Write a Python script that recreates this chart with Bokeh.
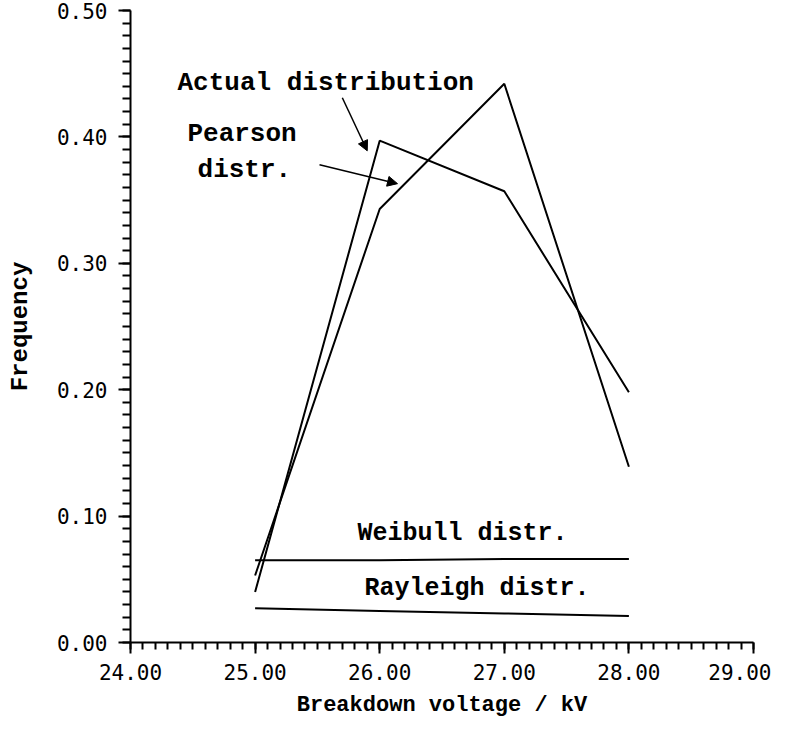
from bokeh.plotting import figure
from bokeh.models import Range1d, SingleIntervalTicker, NumeralTickFormatter, Arrow, NormalHead
from bokeh.core.properties import value
from bokeh.embed import file_html
from bokeh.resources import INLINE

# ---- data ----
voltage = [25.0, 26.0, 27.0, 28.0]
actual = [0.040, 0.397, 0.357, 0.198]
pearson = [0.053, 0.343, 0.442, 0.139]
weibull = [0.065, 0.065, 0.066, 0.066]
rayleigh = [0.027, 0.025, 0.023, 0.021]

x_ticks_major = 1.0
y_ticks_major = 0.1

# annotation texts
label_texts = ["Actual distribution", "Pearson", "distr.", "Weibull distr.", "Rayleigh distr."]
label_x = [24.377, 24.457, 24.538, 25.822, 25.878]
label_y = [0.443, 0.402, 0.374, 0.0863, 0.0424]
label_size = ["26px", "26px", "26px", "25px", "25px"]

# arrows (tail -> tip)
arrow_x0 = [25.70, 25.517]
arrow_y0 = [0.431, 0.378]
arrow_x1 = [25.90, 26.143]
arrow_y1 = [0.389, 0.363]

p = figure(width=771, height=720, output_backend="svg", toolbar_location=None,
           x_range=Range1d(24, 29), y_range=Range1d(0, 0.5),
           min_border_left=130, min_border_right=18, min_border_top=10, min_border_bottom=76)
p.outline_line_color = None
p.xgrid.visible = False
p.ygrid.visible = False
p.background_fill_color = "white"
p.border_fill_color = "white"

p.xaxis.ticker = SingleIntervalTicker(interval=x_ticks_major, num_minor_ticks=10)
p.yaxis.ticker = SingleIntervalTicker(interval=y_ticks_major, num_minor_ticks=10)
p.xaxis.formatter = NumeralTickFormatter(format="0.00")
p.yaxis.formatter = NumeralTickFormatter(format="0.00")

for ax in (p.xaxis, p.yaxis):
    ax.axis_line_color = "black"
    ax.axis_line_width = 2
    ax.major_tick_line_color = "black"
    ax.minor_tick_line_color = "black"
    ax.major_tick_line_width = 2
    ax.minor_tick_line_width = 2
    ax.major_tick_in = 0
    ax.minor_tick_in = 0
    ax.major_label_text_font = "DejaVu Sans Mono"
    ax.major_label_text_font_size = "21px"
    ax.major_label_text_color = "black"
    ax.axis_label_text_font = "Liberation Mono"
    ax.axis_label_text_font_style = "bold"
    ax.axis_label_text_color = "black"

p.xaxis.major_tick_out = 11
p.xaxis.minor_tick_out = 7
p.xaxis.major_label_standoff = 10
p.xaxis.axis_label = "Breakdown voltage / kV"
p.xaxis.axis_label_text_font_size = "22px"
p.xaxis.axis_label_standoff = 10

p.yaxis.major_tick_out = 12
p.yaxis.minor_tick_out = 8
p.yaxis.major_label_standoff = 11
p.yaxis.axis_label = "Frequency"
p.yaxis.axis_label_text_font_size = "24px"
p.yaxis.axis_label_standoff = 20

for series in (actual, pearson, weibull, rayleigh):
    p.line(voltage, series, line_color="black", line_width=2)

for t, x, y, s in zip(label_texts, label_x, label_y, label_size):
    p.text(x=[x], y=[y], text=[t], text_font=value("Liberation Mono"), text_font_style="bold",
           text_font_size=s, text_color="black", text_align="left", text_baseline="alphabetic")

for x0, y0, x1, y1 in zip(arrow_x0, arrow_y0, arrow_x1, arrow_y1):
    p.add_layout(Arrow(x_start=x0, y_start=y0, x_end=x1, y_end=y1, line_width=1.5, line_color="black",
                       end=NormalHead(size=10, fill_color="black", line_color="black")))

open("out.html", "w").write(file_html(p, INLINE))
